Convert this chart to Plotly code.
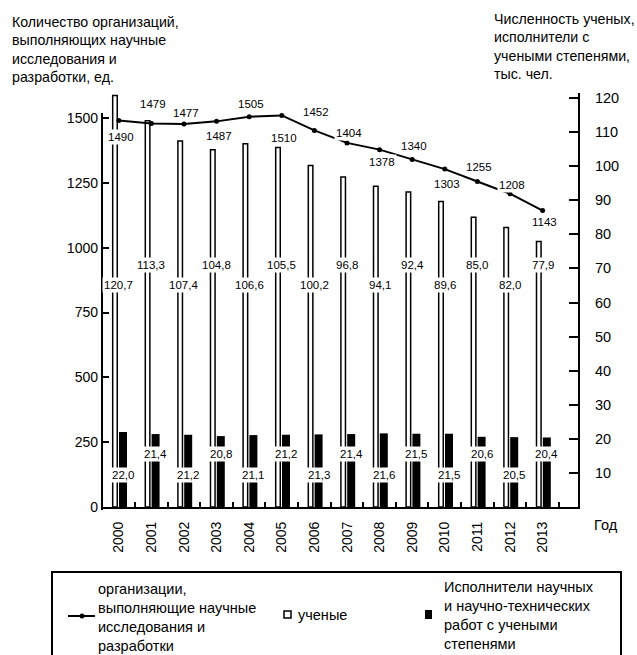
import plotly.graph_objects as go

# ---- data -------------------------------------------------------------
years = list(range(2000, 2014))
organizations = [1490, 1479, 1477, 1487, 1505, 1510, 1452, 1404, 1378, 1340, 1303, 1255, 1208, 1143]
scientists = [120.7, 113.3, 107.4, 104.8, 106.6, 105.5, 100.2, 96.8, 94.1, 92.4, 89.6, 85.0, 82.0, 77.9]
degree_holders = [22.0, 21.4, 21.2, 20.8, 21.1, 21.2, 21.3, 21.4, 21.6, 21.5, 21.5, 20.6, 20.5, 20.4]
left_ticks = [0, 250, 500, 750, 1000, 1250, 1500]
right_ticks = [10, 20, 30, 40, 50, 60, 70, 80, 90, 100, 110, 120]
year_labels = [str(y) for y in years]

# ---- page geometry ----------------------------------------------------
W, H = 637, 655
M_L, M_R, M_T, M_B = 102, 59, 93, 148
PW = W - M_L - M_R
PH = H - M_T - M_B
FONT = "Liberation Sans, Arial, sans-serif"


def px_x(px):
    return (px - M_L) / PW


def px_y(py):
    return (H - M_B - py) / PH


X_RANGE = [1999.485, 2014.086]
RIGHT_RANGE = [0, 121.47]
LEFT_RANGE = [0, 1596.4]

# label placement (pixel offsets of the line labels, positive = up)
LINE_LABEL_SHIFT = [-16, 19, 11, -15, 13, -23, 18, 10, -12, 13, -15, 15, 9, -11]
WHITE_LABEL_LEVELS = (65.1, 71.0)
BLACK_LABEL_LEVELS = (9.4, 15.6)


def comma(v):
    return f"{v:.1f}".replace(".", ",")


fig = go.Figure()

# scientists: outlined white bars
fig.add_trace(go.Bar(
    x=years, y=scientists, yaxis="y",
    width=0.14, offset=-0.187,
    marker=dict(color="white", line=dict(color="black", width=1.5)),
    name="ученые",
))
# researchers with academic degrees: solid black bars
fig.add_trace(go.Bar(
    x=years, y=degree_holders, yaxis="y",
    width=0.245, offset=0.0065,
    marker=dict(color="black", line=dict(color="black", width=0)),
    name="Исполнители научных и научно-технических работ с учеными степенями",
))
# organizations: line on the left axis
fig.add_trace(go.Scatter(
    x=years, y=organizations, yaxis="y2", mode="lines+markers",
    line=dict(color="black", width=2),
    marker=dict(color="black", size=5),
    name="организации, выполняющие научные исследования и разработки",
))

annotations = []
for i, (yr, v) in enumerate(zip(years, organizations)):
    annotations.append(dict(
        x=yr, y=v, xref="x", yref="y2", text=str(v), showarrow=False,
        yshift=LINE_LABEL_SHIFT[i], xshift=2, bgcolor="white", borderpad=1,
        font=dict(family=FONT, size=11.5, color="black"),
    ))
for i, (yr, v) in enumerate(zip(years, scientists)):
    annotations.append(dict(
        x=yr, y=WHITE_LABEL_LEVELS[i % 2], xref="x", yref="y", text=comma(v),
        showarrow=False, bgcolor="white", borderpad=1,
        font=dict(family=FONT, size=11.5, color="black"),
    ))
for i, (yr, v) in enumerate(zip(years, degree_holders)):
    annotations.append(dict(
        x=yr + 0.13, y=BLACK_LABEL_LEVELS[i % 2], xref="x", yref="y", text=comma(v),
        showarrow=False, bgcolor="white", borderpad=1,
        font=dict(family=FONT, size=11.5, color="black"),
    ))

# axis titles
TITLE_FONT = dict(family=FONT, size=14.2, color="black")
annotations.append(dict(
    x=px_x(10), y=px_y(12), xref="paper", yref="paper", xanchor="left", yanchor="top",
    align="left", showarrow=False,
    text="Количество организаций,<br>выполняющих научные<br>исследования и<br>разработки, ед.",
    font=TITLE_FONT,
))
annotations.append(dict(
    x=px_x(492), y=px_y(9), xref="paper", yref="paper", xanchor="left", yanchor="top",
    align="left", showarrow=False,
    text="Численность ученых,<br>исполнители с<br>учеными степенями,<br>тыс. чел.",
    font=TITLE_FONT,
))
annotations.append(dict(
    x=px_x(592), y=px_y(525), xref="paper", yref="paper", xanchor="left", yanchor="middle",
    showarrow=False, text="Год", font=dict(family=FONT, size=14.5, color="black"),
))

# legend box contents
LEG_FONT = dict(family=FONT, size=14.5, color="black")
annotations += [
    dict(x=px_x(96), y=px_y(617), xref="paper", yref="paper", xanchor="left", yanchor="middle",
         align="left", showarrow=False, font=LEG_FONT,
         text="организации,<br>выполняющие научные<br>исследования и<br>разработки"),
    dict(x=px_x(296), y=px_y(615), xref="paper", yref="paper", xanchor="left", yanchor="middle",
         align="left", showarrow=False, font=LEG_FONT, text="ученые"),
    dict(x=px_x(442), y=px_y(615), xref="paper", yref="paper", xanchor="left", yanchor="middle",
         align="left", showarrow=False, font=LEG_FONT,
         text="Исполнители научных<br>и научно-технических<br>работ с учеными<br>степенями"),
]

shapes = [
    # left axis line (shorter than the right one)
    dict(type="line", xref="paper", yref="paper", x0=0, x1=0, y0=px_y(510), y1=px_y(113),
         line=dict(color="black", width=2)),
    # legend frame
    dict(type="rect", xref="paper", yref="paper", x0=px_x(52), x1=px_x(621),
         y0=px_y(700), y1=px_y(572), line=dict(color="black", width=2), fillcolor="rgba(0,0,0,0)"),
    # legend symbol: line with dot
    dict(type="line", xref="paper", yref="paper", x0=px_x(68), x1=px_x(95),
         y0=px_y(616), y1=px_y(616), line=dict(color="black", width=2)),
    dict(type="circle", xref="paper", yref="paper", x0=px_x(79.5), x1=px_x(84.5),
         y0=px_y(618.5), y1=px_y(613.5), fillcolor="black", line=dict(color="black", width=0)),
    # legend symbol: white bar
    dict(type="rect", xref="paper", yref="paper", x0=px_x(284), x1=px_x(291),
         y0=px_y(618), y1=px_y(611), fillcolor="white", line=dict(color="black", width=1.5)),
    # legend symbol: black bar
    dict(type="rect", xref="paper", yref="paper", x0=px_x(425), x1=px_x(432),
         y0=px_y(619), y1=px_y(610), fillcolor="black", line=dict(color="black", width=0)),
]

fig.update_layout(
    width=W, height=H,
    margin=dict(l=M_L, r=M_R, t=M_T, b=M_B, pad=0),
    paper_bgcolor="white", plot_bgcolor="white",
    showlegend=False,
    barmode="overlay",
    font=dict(family=FONT, size=14, color="black"),
    xaxis=dict(
        range=X_RANGE, tickmode="array", tickvals=years, ticktext=year_labels,
        tickangle=-90, ticks="", showgrid=False, zeroline=False,
        showline=True, linecolor="black", linewidth=2, ticklabelstandoff=7,
        tickfont=dict(family=FONT, size=14, color="black"),
        minor=dict(tickmode="array", tickvals=[y + 0.5 for y in years],
                   ticks="inside", ticklen=5, tickwidth=1.5, tickcolor="black", showgrid=False),
    ),
    yaxis=dict(
        side="right", range=RIGHT_RANGE, tickmode="array", tickvals=right_ticks,
        ticks="inside", ticklen=9, tickwidth=1.5, tickcolor="black",
        showline=True, linecolor="black", linewidth=2,
        showgrid=False, zeroline=False, ticklabelstandoff=12,
        tickfont=dict(family=FONT, size=14.5, color="black"),
    ),
    yaxis2=dict(
        side="left", overlaying="y", range=LEFT_RANGE, tickmode="array", tickvals=left_ticks,
        ticks="inside", ticklen=7, tickwidth=1.5, tickcolor="black",
        showline=False, showgrid=False, zeroline=False, ticklabelstandoff=3,
        tickfont=dict(family=FONT, size=14, color="black"),
    ),
    annotations=annotations,
    shapes=shapes,
)

fig.write_html("out.html")
